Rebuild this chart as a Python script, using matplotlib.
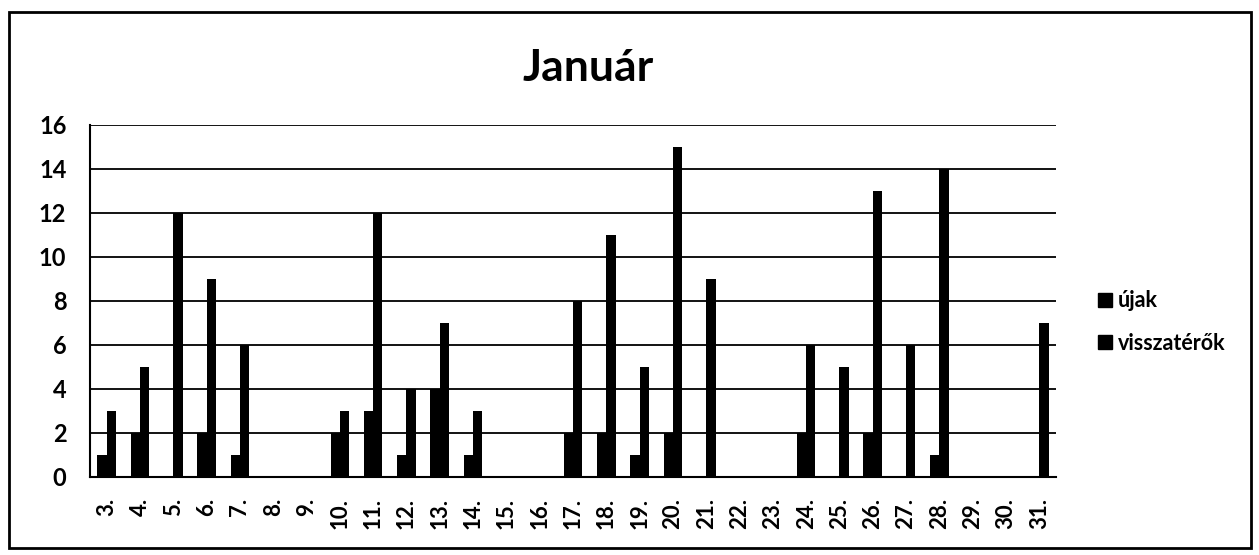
import matplotlib
matplotlib.use("Agg")
import matplotlib.pyplot as plt
import numpy as np
from matplotlib.patches import Rectangle
from matplotlib.lines import Line2D

days = ["3.", "4.", "5.", "6.", "7.", "8.", "9.", "10.", "11.", "12.", "13.", "14.",
        "15.", "16.", "17.", "18.", "19.", "20.", "21.", "22.", "23.", "24.", "25.",
        "26.", "27.", "28.", "29.", "30.", "31."]
ujak = [1, 2, 0, 2, 1, 0, 0, 2, 3, 1, 4, 1, 0, 0, 2, 2, 1, 2, 0, 0, 0, 2, 0, 2, 0, 1, 0, 0, 0]
visszaterok = [3, 5, 12, 9, 6, 0, 0, 3, 12, 4, 7, 3, 0, 0, 8, 11, 5, 15, 9, 0, 0, 6, 5, 13, 6, 14, 0, 0, 7]
series_names = ["újak", "visszatérők"]
title = "Január"

plt.rcParams['font.family'] = ['Lato', 'DejaVu Sans']

fig = plt.figure(figsize=(12.59, 5.55), dpi=100)
ax = fig.add_axes([90/1259, 1-477/555, (1056-90)/1259, (477-125)/555])

x = np.arange(len(days))
w = 0.28
ax.bar(x - w/2, ujak, width=w, color="black", zorder=3, label=series_names[0])
ax.bar(x + w/2, visszaterok, width=w, color="black", zorder=3, label=series_names[1])

ax.set_xlim(-0.5, len(days) - 0.5)
ax.set_ylim(0, 16)
ax.set_yticks(range(0, 17, 2))
ax.yaxis.grid(True, color="black", linewidth=1.3, zorder=0)
ax.set_axisbelow(True)
ax.set_xticks(x)
ax.set_xticklabels(days, rotation=90, fontsize=16, fontweight="bold")
for lbl in ax.get_yticklabels():
    lbl.set_fontsize(17)
    lbl.set_fontweight("bold")
ax.tick_params(axis="x", length=0, pad=15)
ax.tick_params(axis="y", length=0, pad=17)
for s in ["top", "right"]:
    ax.spines[s].set_visible(False)
ax.spines["left"].set_linewidth(1.5)
ax.spines["bottom"].set_linewidth(1.5)

fig.text(588/1259, 1-68/555, title, ha="center", va="center", fontsize=32, fontweight="bold")

handles = [Line2D([], [], marker="s", linestyle="none", color="black", markersize=10),
           Line2D([], [], marker="s", linestyle="none", color="black", markersize=10)]
fig.legend(handles, series_names, loc="center left", bbox_to_anchor=(1080/1259, 1-322/555),
           frameon=False, prop={"weight": "bold", "size": 15.5}, handletextpad=0.15,
           labelspacing=1.0, handlelength=0.9, borderpad=0.2)

fig.add_artist(Rectangle((9/1259, 1-548/555), (1251-9)/1259, (548-12)/555,
                         transform=fig.transFigure, fill=False, edgecolor="black", linewidth=2))

fig.savefig("out.png", dpi=100)
